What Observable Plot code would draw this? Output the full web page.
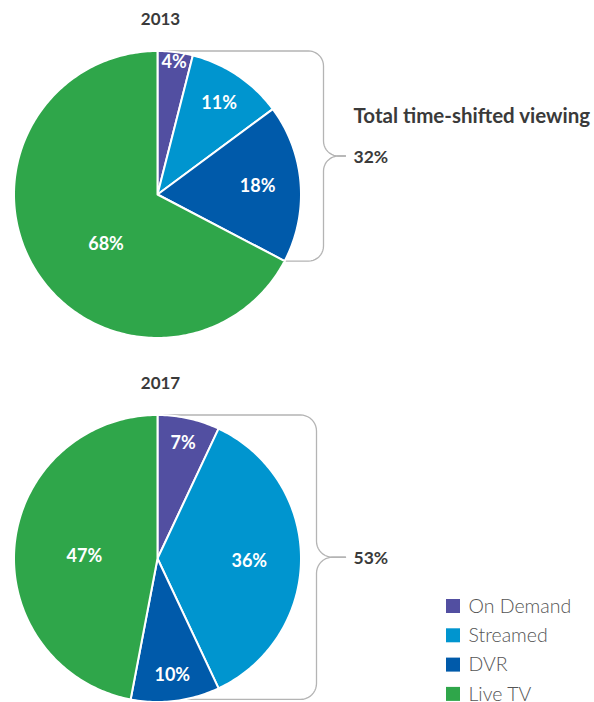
<!DOCTYPE html>
<html><head><meta charset="utf-8">
<script src="https://cdn.jsdelivr.net/npm/d3@7"></script>
<script src="https://cdn.jsdelivr.net/npm/@observablehq/plot@0.6"></script>
<style>body{margin:0;background:#fff} #chart svg{display:block}</style>
</head><body><div id="chart"></div>
<script>
// ---- data ----
const categories = ["On Demand", "Streamed", "DVR", "Live TV"];
const colors = ["#524fa1", "#0095cf", "#005aaa", "#2fa64a"];
const years = ["2013", "2017"];
const values2013 = [4, 11, 18, 68];
const values2017 = [7, 36, 10, 47];
const timeShiftedLabels = ["32%", "53%"];
const braceTitle = "Total time-shifted viewing";
const timeShiftedCount = 3; // first three categories are time-shifted

// ---- layout ----
const W = 594, H = 702;
const pies = [{cx: 157, cy: 194, r: 143.5}, {cx: 157, cy: 558, r: 143.5}];
const labelR = [[0.93, 0.77, 0.70, 0.50], [0.82, 0.64, 0.82, 0.51]];
const labelShift = [[0, 0, 0, -13], [0, 2, 0, -4]]; // degrees
const braces = [{xV: 323, xT: 345, rc: 15, show: true}, {xV: 316, xT: 345, rc: 16, show: false}];
const legendX = 446, legendY0 = 606, legendDY = 29.3, legendSize = 14;

const allValues = [values2013, values2017];
const rad = Math.PI / 180;
const pt = (p, a, rr) => [p.cx + rr * Math.sin(a), p.cy - rr * Math.cos(a)];

const slicePts = [], sliceLabels = [], braceLines = [], sideTitles = [], sideTexts = [], titles = [];
allValues.forEach((vals, yi) => {
  const p = pies[yi];
  const total = d3.sum(vals);
  let acc = 0;
  vals.forEach((v, i) => {
    const a0 = acc / total * 2 * Math.PI;
    acc += v;
    const a1 = acc / total * 2 * Math.PI;
    const key = years[yi] + "-" + categories[i];
    slicePts.push({key, cat: categories[i], x: p.cx, y: p.cy});
    const n = Math.max(2, Math.ceil((a1 - a0) / rad));
    for (let k = 0; k <= n; k++) {
      const [x, y] = pt(p, a0 + (a1 - a0) * k / n, p.r);
      slicePts.push({key, cat: categories[i], x, y});
    }
    const am = (a0 + a1) / 2 + labelShift[yi][i] * rad;
    const [lx, ly] = pt(p, am, p.r * labelR[yi][i]);
    sliceLabels.push({x: lx, y: ly, text: v + "%"});
  });
  // brace
  const b = braces[yi];
  const tsSum = d3.sum(vals.slice(0, timeShiftedCount));
  const [ex, ey] = pt(p, tsSum / total * 2 * Math.PI, p.r);
  const yTop = p.cy - p.r, yBot = ey, yMid = (yTop + yBot) / 2;
  const half = (id, xL, yEnd, dir) => {
    const pts = [];
    pts.push([xL, yEnd]);
    pts.push([b.xV - b.rc, yEnd]);
    const c1 = [b.xV - b.rc, yEnd + dir * b.rc];
    for (let k = 0; k <= 10; k++) {
      const t = k / 10 * Math.PI / 2;
      pts.push([c1[0] + b.rc * Math.sin(t), c1[1] - dir * b.rc * Math.cos(t)]);
    }
    const c2 = [b.xV + b.rc, yMid - dir * b.rc];
    for (let k = 0; k <= 10; k++) {
      const t = k / 10 * Math.PI / 2;
      pts.push([c2[0] - b.rc * Math.cos(t), c2[1] + dir * b.rc * Math.sin(t)]);
    }
    pts.push([b.xT, yMid]);
    pts.forEach(([x, y]) => braceLines.push({id, x, y}));
  };
  half(years[yi] + "top", p.cx, yTop, 1);
  half(years[yi] + "bot", ex, yBot, -1);
  if (b.show) sideTitles.push({x: b.xT + 8, y: yMid - 40, text: braceTitle});
  sideTexts.push({x: b.xT + 8, y: yMid + 1, text: timeShiftedLabels[yi]});
  titles.push({x: p.cx + 3, y: p.cy - p.r - 31, text: years[yi]});
});

const legend = categories.map((c, i) => ({cat: c, x1: legendX, x2: legendX + legendSize,
  y: legendY0 + i * legendDY}));

const chart = Plot.plot({
  width: W, height: H,
  margin: 0,
  x: {domain: [0, W], range: [0, W], axis: null},
  y: {domain: [0, H], range: [0, H], axis: null},
  color: {domain: categories, range: colors},
  style: {fontFamily: "Lato, 'Open Sans', sans-serif", background: "#fff"},
  marks: [
    Plot.line(braceLines, {x: "x", y: "y", z: "id", stroke: "#b4b4b4", strokeWidth: 1.3}),
    Plot.line(slicePts, {x: "x", y: "y", z: "key", fill: "cat", stroke: "white", strokeWidth: 2,
      strokeLinejoin: "round", curve: "linear-closed"}),
    Plot.text(sliceLabels, {x: "x", y: "y", text: "text", fill: "white", fontSize: 18, fontWeight: "bold"}),
    Plot.text(titles, {x: "x", y: "y", text: "text", fill: "#3a3a3a", fontSize: 17, fontWeight: "bold"}),
    Plot.text(sideTitles, {x: "x", y: "y", text: "text", fill: "#3a3a3a", fontSize: 20.5, fontWeight: "bold", textAnchor: "start"}),
    Plot.text(sideTexts, {x: "x", y: "y", text: "text", fill: "#3a3a3a", fontSize: 17.5, fontWeight: "bold", textAnchor: "start"}),
    Plot.rect(legend, {x1: "x1", x2: "x2", y1: d => d.y - legendSize / 2, y2: d => d.y + legendSize / 2, fill: "cat"}),
    Plot.text(legend, {x: d => d.x2 + 8, y: "y", text: "cat", fill: "#555", fontSize: 19.5, fontWeight: 300, textAnchor: "start"})
  ]
});
document.getElementById("chart").append(chart);
</script>
</body></html>
